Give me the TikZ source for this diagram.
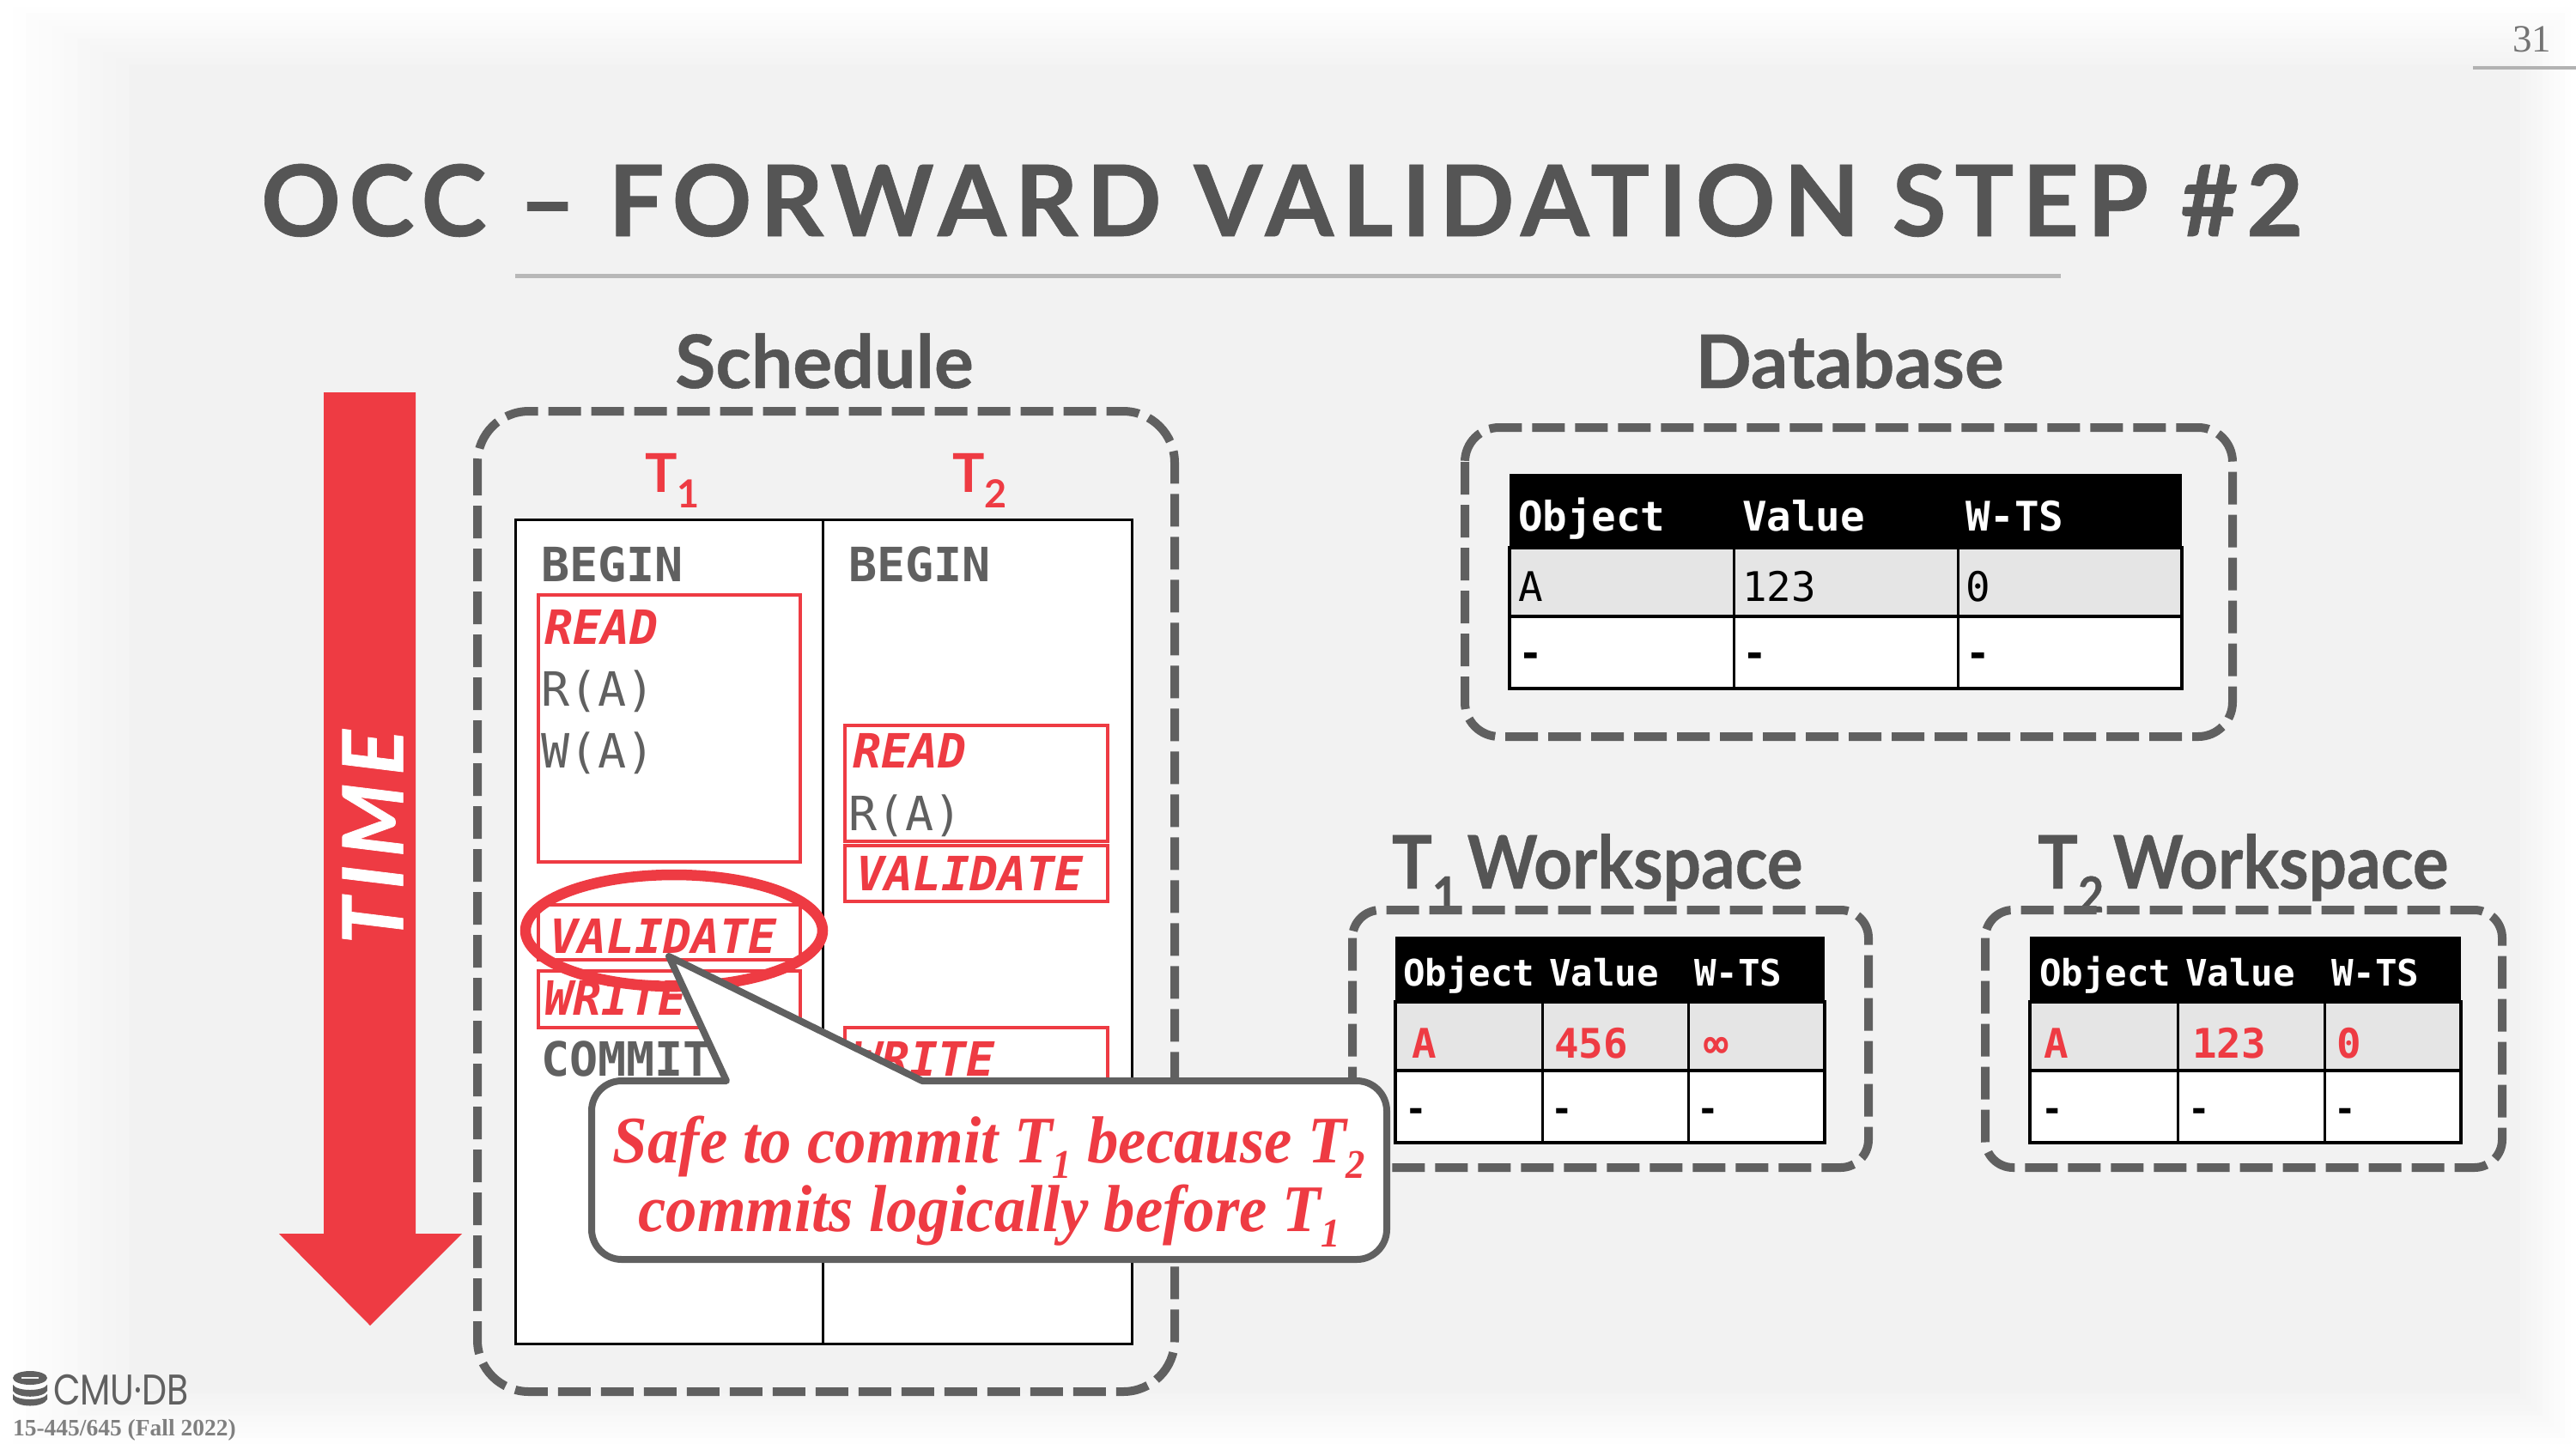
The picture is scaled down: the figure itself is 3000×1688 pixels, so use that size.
\documentclass[tikz,border=0pt]{standalone}
\usepackage{fontspec}
\setmainfont{Lato}
\newfontfamily\titlefont[LetterSpace=8.4,FakeBold=0.6]{Lato}
\newfontfamily\timefont[LetterSpace=10,FakeBold=0.8]{Lato}
\newfontfamily\headfont[FakeBold=0.5]{Lato}
\newfontfamily\wsfont[FakeBold=0.5,FakeStretch=0.91]{Lato}
\newfontfamily\codefont{DejaVu Sans Mono}
\newfontfamily\noteserif[FakeStretch=0.94]{Liberation Serif}
\newfontfamily\plainserif{Liberation Serif}
\newfontfamily\logofont[FakeStretch=0.82]{Poppins}
\definecolor{occred}{HTML}{EE3B43}
\definecolor{occgray}{HTML}{606060}
\definecolor{headgray}{HTML}{555555}
\newcommand{\fs}[1]{\fontsize{#1}{#1}\selectfont}
\newcommand{\subn}[1]{\raisebox{-0.24em}{\fs{19}#1}}
\tikzset{
  txt/.style={inner sep=0pt,outer sep=0pt,anchor=base west},
  dashbox/.style={draw=occgray,line width=4pt,dash pattern=on 15.2pt off 4.8pt},
  code/.style={txt,text=occgray,font=\codefont\bfseries\fs{22}},
  light/.style={txt,text=occgray,font=\codefont\fs{22}},
  phase/.style={txt,text=occred,font=\codefont\bfseries\itshape\fs{22}},
  phasebox/.style={draw=occred,line width=1.3pt},
  heading/.style={inner sep=0pt,outer sep=0pt,anchor=base,text=headgray,font=\headfont\bfseries\fs{34.4}},
  wsheading/.style={inner sep=0pt,outer sep=0pt,anchor=base west,text=headgray,font=\wsfont\bfseries\fs{34.4}},
  thead/.style={txt,text=white,font=\codefont\bfseries\fs{#1}},
  tcell/.style={txt,text=black,font=\codefont\fs{#1}},
  tred/.style={txt,text=occred,font=\codefont\bfseries\fs{#1}},
  tdash/.style={txt,text=black,font=\codefont\bfseries\fs{#1}},
}
% x0 x1 x2 x3 y0 y1 y2 y3
\newcommand{\gridtable}[8]{
  \fill[white] (#1,#5) rectangle (#4,#8);
  \fill[black!10] (#1,#6) rectangle (#4,#7);
  \fill[black] (#1,#5) rectangle (#4,#6);
  \draw[black,line width=1.4pt] (#1,#6) rectangle (#4,#8);
  \draw[black,line width=1.8pt] (#1,#7) -- (#4,#7);
  \draw[black,line width=1.2pt] (#2,#6) -- (#2,#8) (#3,#6) -- (#3,#8);
}
\begin{document}
\begin{tikzpicture}[x=0.4pt,y=-0.4pt]
\useasboundingbox (0,0) rectangle (3000,1688);
% background
\fill[white] (0,0) rectangle (3000,1688);
\foreach \i in {1,...,10}{
  \pgfmathsetmacro{\tint}{0.5*\i}
  \fill[black!\tint] ({15*\i},{7.5*\i}) rectangle ({3000-6.5*\i},{1688-6.5*\i});
}
% page number
\node[txt,text=black!55,font=\plainserif\fs{18}] (page) at (2926,60) {31};
\coordinate (ruleL) at (2880,79);
\coordinate (ruleR) at (3000,79);
\draw[black!30,line width=1.6pt] (ruleL) -- (ruleR);
% title
\node[txt,text=headgray,font=\titlefont\bfseries\fs{46}] (title) at (304,275) {OCC – FORWARD VALIDATION STEP \#2};
\coordinate (titleL) at (600,321);
\coordinate (titleR) at (2400,321);
\draw[black!28,line width=2pt] (titleL) -- (titleR);
% headings
\node[heading] (schedH) at (960,452) {Schedule};
\node[heading] (dbH) at (2154,452) {Database};
\node[wsheading] (w1H) at (1621,1035) {T\raisebox{-0.32em}{\fs{23}1}\hspace{0.12em}Workspace};
\node[wsheading] (w2H) at (2373,1035) {T\raisebox{-0.32em}{\fs{23}2}\hspace{0.12em}Workspace};
% time arrow
\fill[occred] (377,457) -- (484,457) -- (484,1437) -- (538,1437) -- (431,1544) -- (325,1437) -- (377,1437) -- cycle;
\node[rotate=90,inner sep=0pt,text=white,font=\timefont\bfseries\itshape\fs{39}] (time) at (434,975) {TIME};
% schedule box
\draw[dashbox,rounded corners=24pt] (556,479) rectangle (1368,1621);
\node[txt,text=occred,font=\bfseries\fs{25}] (t1) at (751,573) {T\raisebox{-0.3em}{\fs{18}1}};
\node[txt,text=occred,font=\bfseries\fs{25}] (t2) at (1109,573) {T\raisebox{-0.3em}{\fs{18}2}};
\draw[black,line width=1.2pt,fill=white] (600,605) rectangle (1318,1565);
\draw[black,line width=1.2pt] (958,605) -- (958,1565);
% T1 column
\node[code] (b1) at (630,677) {BEGIN};
\draw[phasebox] (627,693) rectangle (932,1004);
\node[phase] (r1) at (634,750) {READ};
\node[light] (ra1) at (630,822) {R(A)};
\node[light] (wa1) at (630,894) {W(A)};
\draw[phasebox] (627,1054) rectangle (932,1118);
\node[phase] (v1) at (640,1110) {VALIDATE};
\draw[phasebox] (627,1131) rectangle (932,1197);
\node[phase] (w1) at (634,1182) {WRITE};
\node[code] (c1) at (630,1253) {COMMIT};
% T2 column
\node[code] (b2) at (988,677) {BEGIN};
\draw[phasebox] (984,845) rectangle (1290,980);
\node[phase] (r2) at (993,894) {READ};
\node[light] (ra2) at (988,967) {R(A)};
\draw[phasebox] (984,985) rectangle (1290,1050);
\node[phase] (v2) at (997,1037) {VALIDATE};
\draw[phasebox] (984,1197) rectangle (1290,1275);
\node[phase] (w2) at (993,1253) {WRITE};
% ellipse
\draw[occred,line width=5pt] (785,1084) ellipse [x radius=173,y radius=65];
% database
\draw[dashbox,rounded corners=16pt] (1706,498) rectangle (2600,858);
\gridtable{1758}{2019}{2280}{2541}{552}{638}{718}{802}
\node[thead=19] (d1) at (1768,618) {Object};
\node[thead=19] (d2) at (2029,618) {Value};
\node[thead=19] (d3) at (2289,618) {W-TS};
\node[tcell=19] (d4) at (1768,700) {A};
\node[tcell=19] (d5) at (2029,700) {123};
\node[tcell=19] (d6) at (2289,700) {0};
\node[tdash=19] (d7) at (1768,777) {-};
\node[tdash=19] (d8) at (2029,777) {-};
\node[tdash=19] (d9) at (2289,777) {-};
% T1 workspace
\draw[dashbox,rounded corners=13pt] (1575,1060) rectangle (2176,1360);
\gridtable{1625}{1796}{1966}{2125}{1091}{1167}{1247}{1331}
\node[thead=17] (a1) at (1634,1148) {Object};
\node[thead=17] (a2) at (1804,1148) {Value};
\node[thead=17] (a3) at (1973,1148) {W-TS};
\node[tred=19] (a4) at (1644,1232) {A};
\node[tred=19] (a5) at (1810,1232) {456};
\node[tred=19] (a6) at (1984,1232) {∞};
\node[tdash=17] (a7) at (1636,1306) {-};
\node[tdash=17] (a8) at (1806,1306) {-};
\node[tdash=17] (a9) at (1976,1306) {-};
% T2 workspace
\draw[dashbox,rounded corners=13pt] (2312,1060) rectangle (2914,1360);
\gridtable{2364}{2536}{2707}{2866}{1091}{1167}{1247}{1331}
\node[thead=17] (e1) at (2375,1148) {Object};
\node[thead=17] (e2) at (2545,1148) {Value};
\node[thead=17] (e3) at (2715,1148) {W-TS};
\node[tred=19] (e4) at (2380,1232) {A};
\node[tred=19] (e5) at (2553,1232) {123};
\node[tred=19] (e6) at (2721,1232) {0};
\node[tdash=17] (e7) at (2377,1306) {-};
\node[tdash=17] (e8) at (2548,1306) {-};
\node[tdash=17] (e9) at (2718,1306) {-};
% callout
\draw[occgray,fill=white,line width=3.2pt,line join=round]
  (846,1259) -- (779,1114) -- (1074,1259)
  -- (1580,1259) arc[start angle=-90,end angle=0,radius=35] -- (1615,1432)
  arc[start angle=0,end angle=90,radius=35] -- (724,1467)
  arc[start angle=90,end angle=180,radius=35] -- (689,1294)
  arc[start angle=180,end angle=270,radius=35] -- cycle;
\node[inner sep=0pt,align=center,text=occred,font=\noteserif\bfseries\itshape\fontsize{31}{32}\selectfont] (note) at (1152,1376)
  {Safe to commit T\subn{1} because T\subn{2}\\ commits logically before T\subn{1}};
% logo
\begin{scope}[occgray]
  \fill (35,1605) ellipse [x radius=20,y radius=8];
  \fill (15,1613) .. controls (20,1621) and (50,1621) .. (55,1613) -- (55,1620) .. controls (50,1629) and (20,1629) .. (15,1620) -- cycle;
  \fill (15,1624) .. controls (20,1632) and (50,1632) .. (55,1624) -- (55,1630) .. controls (50,1640) and (20,1640) .. (15,1630) -- cycle;
\end{scope}
\draw[black!5,line width=0.6pt] (25,1605) -- (45,1605);
\node[txt,text=occgray,font=\logofont\fs{20}] (logo) at (62,1636) {CMU·DB};
\node[txt,text=black!50,font=\plainserif\bfseries\fs{11}] (course) at (15,1672) {15-445/645 (Fall 2022)};
\end{tikzpicture}
\end{document}
